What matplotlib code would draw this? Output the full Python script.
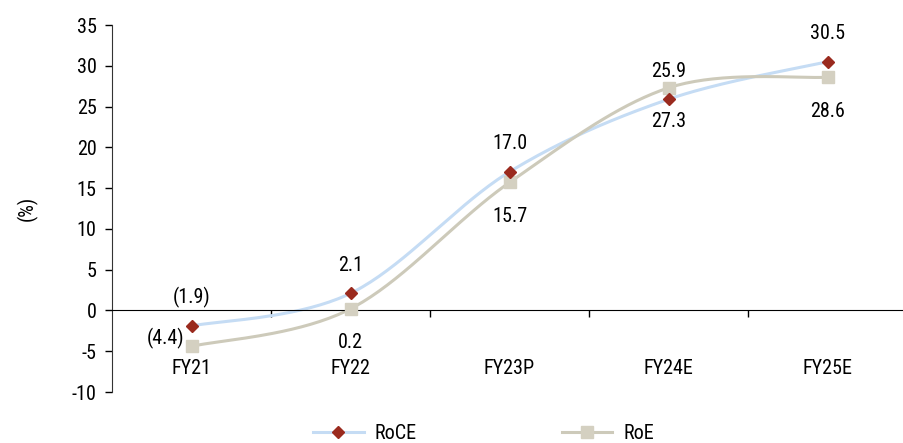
import numpy as np
import matplotlib
matplotlib.use("Agg")
import matplotlib.pyplot as plt
from matplotlib.lines import Line2D
from matplotlib.ticker import FixedLocator

plt.rcParams['font.family'] = ['Roboto Condensed', 'DejaVu Sans']
plt.rcParams['axes.unicode_minus'] = False

categories = ["FY21", "FY22", "FY23P", "FY24E", "FY25E"]
roce = [-1.9, 2.1, 17.0, 25.9, 30.5]
roe = [-4.4, 0.2, 15.7, 27.3, 28.6]
roce_labels = ["(1.9)", "2.1", "17.0", "25.9", "30.5"]
roe_labels = ["(4.4)", "0.2", "15.7", "27.3", "28.6"]

roce_line = "#C5DCF4"
roce_marker = "#9A2A1E"
roe_line = "#CDCABA"
roe_marker = "#D4D0C1"


def smooth(xs, ys, n=40):
    pts = np.column_stack([xs, ys]).astype(float)
    P = np.vstack([pts[0], pts, pts[-1]])
    out = []
    t = np.linspace(0, 1, n)[:, None]
    for i in range(1, len(P) - 2):
        p0, p1, p2, p3 = P[i - 1], P[i], P[i + 1], P[i + 2]
        c1 = p1 + (p2 - p0) / 6.0
        c2 = p2 - (p3 - p1) / 6.0
        seg = ((1 - t) ** 3) * p1 + 3 * ((1 - t) ** 2) * t * c1 + 3 * (1 - t) * t ** 2 * c2 + t ** 3 * p2
        out.append(seg if i == 1 else seg[1:])
    s = np.vstack(out)
    return s[:, 0], s[:, 1]


fig = plt.figure(figsize=(9.04, 4.43), dpi=100)
ax = fig.add_axes([0.1239, 0.1151, 0.8795, 0.8284])

x = np.arange(len(categories))
sx, sy = smooth(x, roce)
ax.plot(sx, sy, color=roce_line, lw=2.2, zorder=2)
sx2, sy2 = smooth(x, roe)
ax.plot(sx2, sy2, color=roe_line, lw=2.2, zorder=2)
ax.plot(x, roce, ls='none', marker='D', ms=6, color=roce_marker, zorder=4)
ax.plot(x, roe, ls='none', marker='s', ms=8, color=roe_marker, zorder=3)

fs = 14.5
for i, (v, lab) in enumerate(zip(roce, roce_labels)):
    ax.annotate(lab, (i, v), xytext=(0, 28), textcoords='offset pixels',
                ha='center', va='center', fontsize=fs)
for i, (v, lab) in enumerate(zip(roe, roe_labels)):
    if i == 0:
        ax.annotate(lab, (i, v), xytext=(-26, 8), textcoords='offset pixels',
                    ha='center', va='center', fontsize=fs)
    else:
        ax.annotate(lab, (i, v), xytext=(0, -34), textcoords='offset pixels',
                    ha='center', va='center', fontsize=fs)

ax.set_xlim(-0.5, len(categories) - 0.5)
ax.set_ylim(-10, 35)
ax.set_yticks(np.arange(-10, 36, 5))
ax.tick_params(axis='y', labelsize=fs, length=5, width=1, direction='out', pad=6)

ax.spines['top'].set_visible(False)
ax.spines['right'].set_visible(False)
ax.spines['bottom'].set_position(('data', 0))
ax.spines['left'].set_color('#333333')
ax.spines['bottom'].set_color('black')

ax.set_xticks(x)
ax.set_xticklabels(categories)
ax.xaxis.set_minor_locator(FixedLocator(np.arange(0.5, len(categories) - 0.5, 1)))
ax.tick_params(axis='x', which='major', length=0, pad=35, labelsize=fs)
ax.tick_params(axis='x', which='minor', length=5, width=1, direction='out')

ax.set_ylabel("(%)", fontsize=fs)
ax.yaxis.set_label_coords(-0.093, 0.5)

handles = [
    Line2D([], [], color=roce_line, lw=2.2, marker='D', ms=6,
           markerfacecolor=roce_marker, markeredgecolor=roce_marker),
    Line2D([], [], color=roe_line, lw=2.2, marker='s', ms=8,
           markerfacecolor=roe_marker, markeredgecolor=roe_marker),
]
fig.legend(handles, ["RoCE", "RoE"], loc='center', bbox_to_anchor=(0.535, 0.022),
           ncol=2, frameon=False, fontsize=fs, handlelength=2.5,
           handletextpad=0.55, columnspacing=7.2)

fig.savefig("out.png", dpi=100)
